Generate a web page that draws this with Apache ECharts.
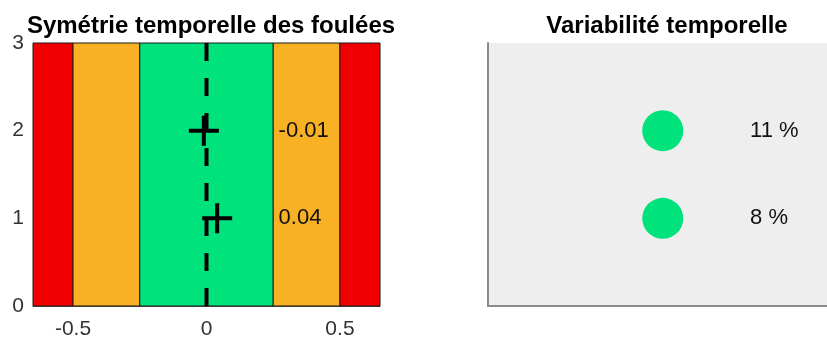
<!DOCTYPE html>
<html>
<head>
<meta charset="utf-8">
<script src="https://cdn.jsdelivr.net/npm/echarts@6/dist/echarts.min.js"></script>
<style>html,body{margin:0;padding:0;background:#fff}#c{width:827px;height:340px}</style>
</head>
<body>
<div id="c"></div>
<script>
// ---- data ----
var titles = ['Symétrie temporelle des foulées', 'Variabilité temporelle'];
var rows = [2, 1];
var symmetry = [-0.01, 0.04];
var variability = [11, 8];
var xTicks = [-0.5, 0, 0.5];
var yTicks = [0, 1, 2, 3];
var bandEdges = [-0.65, -0.5, -0.25, 0.25, 0.5, 0.65];
var bandColors = ['#f00000', '#f8b025', '#00e27b', '#f8b025', '#f00000'];

var FONT = 'Liberation Sans';
var plusPath = 'path://M0,13L30,13L30,17L0,17Z M13,0L17,0L17,30L13,30Z';

var bands = [];
for (var i = 0; i < bandColors.length; i++) {
  bands.push([
    { xAxis: bandEdges[i], yAxis: 0, itemStyle: { color: bandColors[i], opacity: 1, borderColor: '#1a1a1a', borderWidth: 1 } },
    { xAxis: bandEdges[i + 1], yAxis: 3 }
  ]);
}

var symPts = rows.map(function (r, i) { return [symmetry[i], r]; });
var symLbl = rows.map(function (r, i) { return [0.27, r, symmetry[i].toFixed(2)]; });
var varPts = rows.map(function (r) { return [1, r]; });
var varLbl = rows.map(function (r, i) { return [1.5, r, variability[i] + ' %']; });

var chart = echarts.init(document.getElementById('c'), null, { renderer: 'canvas' });
chart.setOption({
  animation: false,
  textStyle: { fontFamily: FONT },
  title: [
    { text: titles[0], left: 206, top: 9, textAlign: 'center',
      textStyle: { fontFamily: FONT, fontSize: 24, fontWeight: 'bold', color: '#000' } },
    { text: titles[1], left: 662, top: 9, textAlign: 'center',
      textStyle: { fontFamily: FONT, fontSize: 24, fontWeight: 'bold', color: '#000' } }
  ],
  grid: [
    { left: 33, top: 43, width: 347, height: 263 },
    { left: 488, top: 43, right: 0, height: 263, show: true, backgroundColor: '#eeeeee', borderWidth: 0 }
  ],
  xAxis: [
    { gridIndex: 0, type: 'value', min: -0.65, max: 0.65,
      axisLine: { show: true, onZero: false, lineStyle: { color: '#555', width: 1 } },
      axisTick: { show: false },
      splitLine: { show: false },
      axisLabel: { customValues: xTicks, margin: 13, fontSize: 21, color: '#333', fontFamily: FONT } },
    { gridIndex: 1, type: 'value', min: 0, max: 1.94,
      axisLine: { show: true, onZero: false, lineStyle: { color: '#8a8a8a', width: 2 } },
      axisTick: { show: false }, splitLine: { show: false }, axisLabel: { show: false } }
  ],
  yAxis: [
    { gridIndex: 0, type: 'value', min: 0, max: 3, interval: 1,
      axisLine: { show: true, onZero: false, lineStyle: { color: '#999', width: 1 } },
      axisTick: { show: false },
      splitLine: { show: false },
      axisLabel: { customValues: yTicks, margin: 9, fontSize: 21, color: '#333', fontFamily: FONT } },
    { gridIndex: 1, type: 'value', min: 0, max: 3,
      axisLine: { show: true, onZero: false, lineStyle: { color: '#8a8a8a', width: 2 } },
      axisTick: { show: false }, splitLine: { show: false }, axisLabel: { show: false } }
  ],
  series: [
    { type: 'scatter', xAxisIndex: 0, yAxisIndex: 0, data: [], silent: true,
      markArea: { silent: true, data: bands } },
    { type: 'line', xAxisIndex: 0, yAxisIndex: 0, data: [[0, 0], [0, 3]], symbol: 'none', silent: true,
      lineStyle: { color: '#000', width: 4, type: [18, 17] } },
    { type: 'scatter', xAxisIndex: 0, yAxisIndex: 0, data: symPts, symbol: plusPath, symbolSize: 30,
      itemStyle: { color: '#000', opacity: 1 }, silent: true },
    { type: 'scatter', xAxisIndex: 0, yAxisIndex: 0, data: symLbl, symbolSize: 0, silent: true,
      itemStyle: { opacity: 1 },
      label: { show: true, position: 'right', distance: 0, fontSize: 22, color: '#111', fontFamily: FONT,
        formatter: function (p) { return p.value[2]; } } },
    { type: 'scatter', xAxisIndex: 1, yAxisIndex: 1, data: varPts, symbol: 'circle', symbolSize: 41,
      itemStyle: { color: '#00e27b', opacity: 1 }, silent: true },
    { type: 'scatter', xAxisIndex: 1, yAxisIndex: 1, data: varLbl, symbolSize: 0, silent: true,
      itemStyle: { opacity: 1 },
      label: { show: true, position: 'right', distance: 0, fontSize: 22, color: '#111', fontFamily: FONT,
        formatter: function (p) { return p.value[2]; } } }
  ]
});
</script>
</body>
</html>
